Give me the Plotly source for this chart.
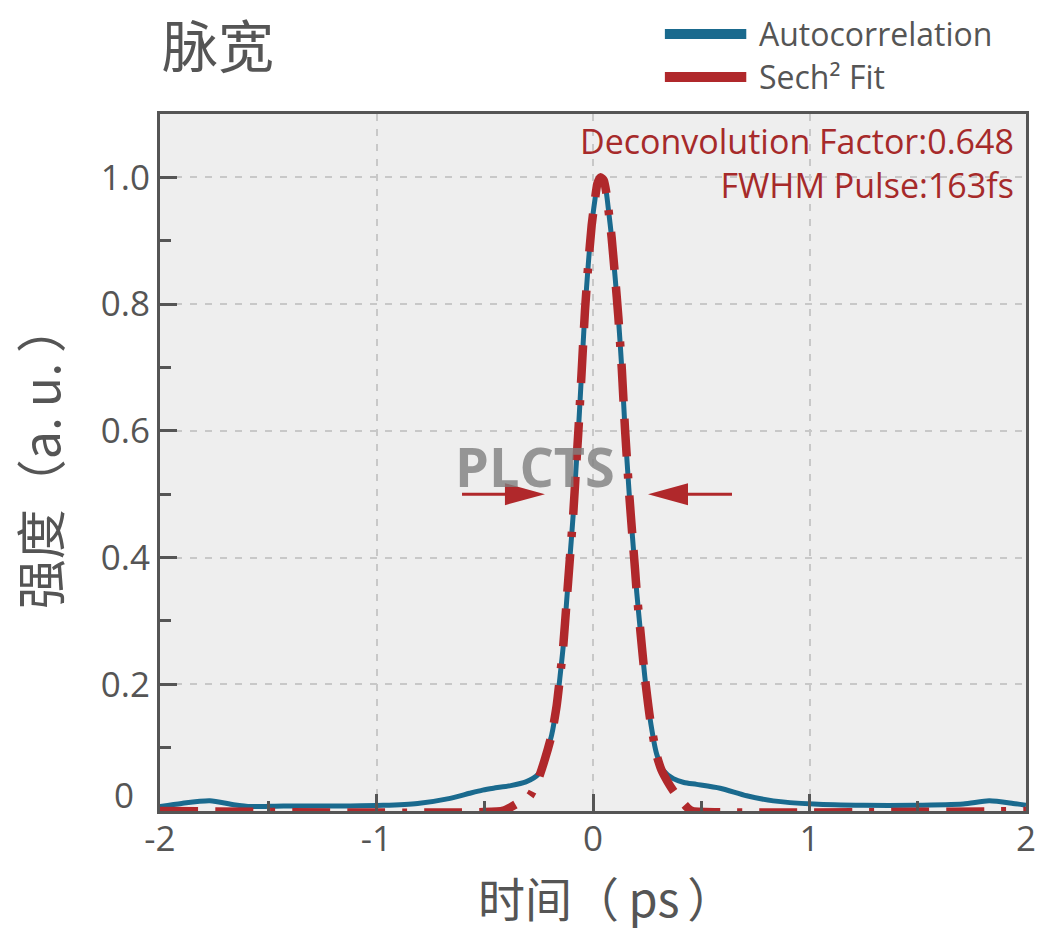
import plotly.graph_objects as go

# ---------------- data ----------------
auto_t = [-2.0, -1.9, -1.77, -1.66, -1.58, -1.43, -1.12, -0.97, -0.81, -0.66, -0.57, -0.51,
          -0.46, -0.38, -0.31, -0.253, -0.229, -0.21, -0.191, -0.168, -0.152, -0.137, -0.122,
          -0.106, -0.091, -0.079, -0.068, -0.053, -0.037, -0.022, -0.006, 0.009, 0.02, 0.035,
          0.05, 0.062, 0.071, 0.086, 0.102, 0.117, 0.133, 0.148, 0.168, 0.182, 0.194, 0.202,
          0.225, 0.240, 0.263, 0.294, 0.325, 0.371, 0.42, 0.479, 0.587, 0.71, 0.833, 1.02,
          1.25, 1.48, 1.71, 1.83, 1.94, 2.0]
auto_i = [0.007, 0.012, 0.016, 0.010, 0.007, 0.008, 0.008, 0.009, 0.012, 0.020, 0.028, 0.033,
          0.036, 0.040, 0.046, 0.058, 0.076, 0.097, 0.120, 0.166, 0.213, 0.262, 0.330,
          0.402, 0.470, 0.538, 0.597, 0.690, 0.790, 0.862, 0.925, 0.965, 0.99, 1.0,
          0.995, 0.975, 0.950, 0.905, 0.843, 0.780, 0.698, 0.602, 0.497, 0.434, 0.382, 0.345,
          0.262, 0.210, 0.147, 0.090, 0.064, 0.051, 0.045, 0.042, 0.036, 0.024, 0.016, 0.011,
          0.009, 0.009, 0.011, 0.016, 0.012, 0.009]

fit_t = [-2.0, -0.42, -0.38, -0.34, -0.291, -0.253, -0.222, -0.191, -0.168, -0.152, -0.137,
         -0.122, -0.106, -0.091, -0.079, -0.068, -0.053, -0.037, -0.022, -0.006, 0.009, 0.02,
         0.035, 0.05, 0.062, 0.071, 0.086, 0.102, 0.117, 0.133, 0.148, 0.168, 0.182, 0.194,
         0.202, 0.225, 0.240, 0.263, 0.294, 0.317, 0.345, 0.371, 0.40, 0.44, 0.46, 2.0]
fit_i = [0.0, 0.0, 0.006, 0.014, 0.024, 0.050, 0.082, 0.120, 0.166, 0.213, 0.262,
         0.330, 0.402, 0.470, 0.538, 0.597, 0.690, 0.790, 0.862, 0.925, 0.965, 0.99,
         1.0, 0.995, 0.975, 0.950, 0.905, 0.843, 0.780, 0.698, 0.602, 0.497, 0.434, 0.382,
         0.345, 0.262, 0.210, 0.147, 0.088, 0.064, 0.046, 0.032, 0.019, 0.004, 0.0, 0.0]

x_ticks = [-2, -1, 0, 1, 2]
x_ticktext = ["-2", "-1", "0", "1", "2"]
y_ticks = [0.2, 0.4, 0.6, 0.8, 1.0]
y_ticktext = ["0.2", "0.4", "0.6", "0.8", "1.0"]

series_names = ["Autocorrelation", "Sech\u00b2 Fit"]
info_lines = ["Deconvolution Factor:0.648", "FWHM Pulse:163fs"]

# arrows marking the FWHM (tail, tip) at intensity 0.5
arrow_level = 0.5
arrow_left = (-0.605, -0.222)
arrow_right = (0.642, 0.254)

# ---------------- styles ----------------
BLUE = "#1a6a8e"
RED = "#b0282b"
TXT_RED = "#a62a2a"
GRAY = "#555555"
FONT = "Open Sans"
CJK = "Noto Sans CJK SC"

fig = go.Figure()
fig.add_trace(go.Scatter(x=auto_t, y=auto_i, mode="lines", name=series_names[0],
                         line=dict(color=BLUE, width=5, shape="spline", smoothing=0.7),
                         showlegend=False))
fig.add_trace(go.Scatter(x=fit_t, y=fit_i, mode="lines", name=series_names[1],
                         line=dict(color=RED, width=8.5, shape="spline", smoothing=0.5,
                                   dash="38px,17px,38px,17px,5px,17px"),
                         showlegend=False))

axis_common = dict(
    showline=True, linecolor=GRAY, linewidth=3, mirror=True,
    ticks="inside", ticklen=17, tickwidth=3, tickcolor=GRAY,
    showgrid=True, gridcolor="#c8c8c8", gridwidth=2, griddash="7px,8px",
    zeroline=False,
    tickfont=dict(family=FONT, size=35, color=GRAY),
)

fig.update_xaxes(range=[-2, 2], tickmode="array", tickvals=x_ticks, ticktext=x_ticktext,
                 ticklabelstandoff=-5,
                 minor=dict(ticks="inside", ticklen=10, tickwidth=3, tickcolor=GRAY,
                            dtick=0.5, tick0=0, showgrid=False),
                 **axis_common)
fig.update_yaxes(range=[0, 1.1], tickmode="array", tickvals=y_ticks, ticktext=y_ticktext,
                 minor=dict(ticks="inside", ticklen=11, tickwidth=3, tickcolor=GRAY,
                            dtick=0.1, tick0=0, showgrid=False),
                 **axis_common)

annotations = [
    dict(text="脉宽", xref="paper", yref="paper", x=0.0, y=1.102, xanchor="left",
         yanchor="middle", showarrow=False, font=dict(family=CJK, size=56, color=GRAY)),
    dict(text=series_names[0], xref="paper", yref="paper", x=0.689, y=1.116, xanchor="left",
         yanchor="middle", showarrow=False, font=dict(family=FONT, size=32, color=GRAY)),
    dict(text=series_names[1], xref="paper", yref="paper", x=0.689, y=1.054, xanchor="left",
         yanchor="middle", showarrow=False, font=dict(family=FONT, size=32, color=GRAY)),
    dict(text="<br>".join(info_lines), xref="paper", yref="paper", x=0.9885, y=0.9295,
         xanchor="right", yanchor="middle", align="right", showarrow=False,
         font=dict(family=FONT, size=34, color=TXT_RED)),
    dict(text="PLCTS", xref="x", yref="y", x=-0.268, y=0.544, xanchor="center",
         yanchor="middle", showarrow=False, opacity=0.8,
         font=dict(family=FONT, size=54, color="#808080", weight="bold")),
    dict(text="时间（\u2009ps\u2006）", xref="paper", yref="paper", x=0.515, y=-0.122,
         xanchor="center", yanchor="middle", showarrow=False,
         font=dict(family=CJK, size=47, color=GRAY)),
    dict(text="强度（a.\u2009u.\u2009）", xref="paper", yref="paper", x=-0.1409, y=0.509,
         xanchor="center", yanchor="middle", showarrow=False, textangle=-90,
         font=dict(family=CJK, size=50, color=GRAY)),
    dict(text="0", xref="paper", yref="paper", x=-0.028, y=0.023, xanchor="right",
         yanchor="middle", showarrow=False, font=dict(family=FONT, size=35, color=GRAY)),
]

shapes = [
    dict(type="line", xref="paper", yref="paper", x0=0.583, x1=0.677, y0=1.1148, y1=1.1148,
         line=dict(color=BLUE, width=10)),
    dict(type="line", xref="paper", yref="paper", x0=0.583, x1=0.677, y0=1.053, y1=1.053,
         line=dict(color=RED, width=10)),
]

head_len_px = 40
head_half_px = 11
for tail, tip in (arrow_left, arrow_right):
    direction = 1 if tip > tail else -1
    shapes.append(dict(type="line", xref="x", yref="y", x0=tail, x1=tip - direction * 0.1,
                       y0=arrow_level, y1=arrow_level, line=dict(color=RED, width=3)))
    shapes.append(dict(type="path", xref="x", yref="y", xsizemode="pixel", ysizemode="pixel",
                       xanchor=tip, yanchor=arrow_level,
                       path=f"M0,0 L{-direction*head_len_px},{head_half_px} "
                            f"L{-direction*head_len_px},{-head_half_px} Z",
                       fillcolor=RED, line=dict(color=RED, width=0)))

fig.update_layout(
    width=1061, height=939, autosize=False,
    margin=dict(l=160, r=35, t=114, b=128),
    paper_bgcolor="white", plot_bgcolor="#eeeeee",
    annotations=annotations, shapes=shapes, showlegend=False,
)

fig.write_html("out.html", config={"displayModeBar": False},
               post_script="document.body.style.margin='0';")
